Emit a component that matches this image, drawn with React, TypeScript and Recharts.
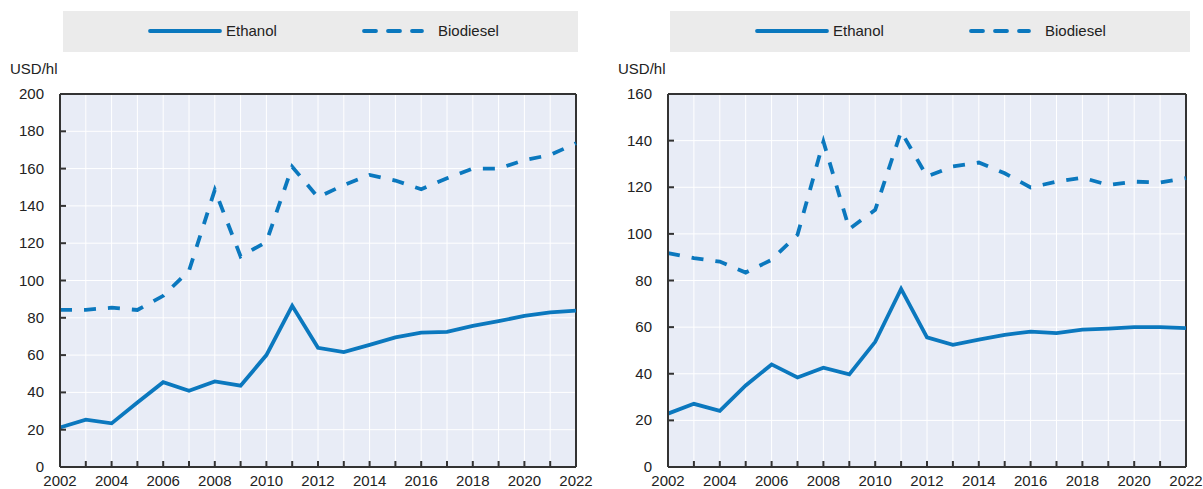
import React from 'react';
import { LineChart, Line, XAxis, YAxis, CartesianGrid, ReferenceLine } from 'recharts';

// Years on the x axis
const years = [
  2002, 2003, 2004, 2005, 2006, 2007, 2008, 2009, 2010, 2011, 2012,
  2013, 2014, 2015, 2016, 2017, 2018, 2019, 2020, 2021, 2022,
];

// Left panel (USD/hl)
const ethanolLeft = [
  21.2, 25.4, 23.4, 34.6, 45.5, 40.9, 45.9, 43.6, 60.0, 86.4, 63.9,
  61.6, 65.5, 69.5, 72.1, 72.5, 75.7, 78.2, 81.0, 82.9, 83.9,
];
const biodieselLeft = [
  84.3, 84.3, 85.4, 84.2, 91.8, 105.2, 148.6, 112.9, 120.7, 161.0, 144.6,
  151.2, 156.6, 153.6, 148.9, 154.8, 160.0, 160.0, 164.6, 167.3, 173.6,
];

// Right panel (USD/hl)
const ethanolRight = [
  22.9, 27.1, 24.1, 35.0, 44.0, 38.4, 42.6, 39.7, 53.7, 76.4, 55.6,
  52.4, 54.6, 56.7, 58.1, 57.4, 58.9, 59.4, 60.0, 60.0, 59.6,
];
const biodieselRight = [
  91.7, 89.6, 88.1, 83.4, 88.9, 99.6, 139.6, 102.1, 110.3, 143.9, 124.6,
  128.9, 130.6, 126.0, 119.9, 122.4, 124.1, 121.0, 122.4, 122.0, 123.9,
];

const leftTicks = [0, 20, 40, 60, 80, 100, 120, 140, 160, 180, 200];
const rightTicks = [0, 20, 40, 60, 80, 100, 120, 140, 160];
const seriesNames = ['Ethanol', 'Biodiesel'];
const unitLabel = 'USD/hl';

const BLUE = '#0b78be';
const AXIS = '#333333';
const FONT = '"Liberation Sans", Arial, sans-serif';

const XTick = ({ x, y, payload }: any) => (
  <g>
    <line x1={x} x2={x} y1={y} y2={y - 6} stroke={AXIS} strokeWidth={2} />
    {payload.value % 2 === 0 && (
      <text x={x} y={y + 19} textAnchor="middle" fontSize={15} fill="#222" fontFamily={FONT}>
        {payload.value}
      </text>
    )}
  </g>
);

const YTick = ({ x, y, payload }: any) => (
  <g>
    <line x1={x} x2={x + 6} y1={y} y2={y} stroke={AXIS} strokeWidth={2} />
    <text x={x - 16} y={y + 5} textAnchor="end" fontSize={15} fill="#222" fontFamily={FONT}>
      {payload.value}
    </text>
  </g>
);

const LegendBox = ({ left, width }: { left: number; width: number }) => (
  <div style={{ position: 'absolute', left, top: 11, width, height: 41, background: '#ebebeb' }}>
    <svg width={width} height={41} style={{ position: 'absolute', left: 0, top: 0 }}>
      <line x1={87} x2={157} y1={20} y2={20} stroke={BLUE} strokeWidth={3.8} strokeLinecap="round" />
      <text x={163} y={25} fontSize={15} fill="#222" fontFamily={FONT}>{seriesNames[0]}</text>
      <line x1={301} x2={359} y1={20} y2={20} stroke={BLUE} strokeWidth={3.8} strokeLinecap="round" strokeDasharray="12 12" />
      <text x={375} y={25} fontSize={15} fill="#222" fontFamily={FONT}>{seriesNames[1]}</text>
    </svg>
  </div>
);

const Panel = ({
  left,
  width,
  rightMargin,
  legendLeft,
  legendWidth,
  ethanol,
  biodiesel,
  ticks,
}: {
  left: number;
  width: number;
  rightMargin: number;
  legendLeft: number;
  legendWidth: number;
  ethanol: number[];
  biodiesel: number[];
  ticks: number[];
}) => {
  const data = years.map((year, i) => ({ year, ethanol: ethanol[i], biodiesel: biodiesel[i] }));
  const yMax = ticks[ticks.length - 1];
  return (
    <div style={{ position: 'absolute', left, top: 0, width, height: 489 }}>
      <LegendBox left={legendLeft} width={legendWidth} />
      <div style={{ position: 'absolute', left: 10, top: 60, fontFamily: FONT, fontSize: 15, color: '#222' }}>
        {unitLabel}
      </div>
      <LineChart
        width={width}
        height={489}
        data={data}
        margin={{ top: 94, right: rightMargin, bottom: 0, left: 0 }}
        style={{ position: 'absolute', left: 0, top: 0 }}
      >
        <CartesianGrid stroke="#ffffff" strokeWidth={1} fill="#e8ecf6" />
        <XAxis
          dataKey="year"
          type="number"
          domain={[2002, 2022]}
          ticks={years}
          interval={0}
          height={22}
          tickSize={0}
          tickMargin={0}
          tickLine={false}
          axisLine={{ stroke: AXIS, strokeWidth: 2 }}
          tick={<XTick />}
        />
        <YAxis
          type="number"
          domain={[0, yMax]}
          ticks={ticks}
          interval={0}
          width={60}
          tickSize={0}
          tickMargin={0}
          tickLine={false}
          axisLine={{ stroke: AXIS, strokeWidth: 2 }}
          tick={<YTick />}
        />
        <ReferenceLine y={yMax} stroke={AXIS} strokeWidth={2} />
        <ReferenceLine x={2022} stroke={AXIS} strokeWidth={2} />
        <Line
          type="linear"
          dataKey="biodiesel"
          name={seriesNames[1]}
          stroke={BLUE}
          strokeWidth={3.8}
          strokeDasharray="12 12"
          dot={false}
          isAnimationActive={false}
        />
        <Line
          type="linear"
          dataKey="ethanol"
          name={seriesNames[0]}
          stroke={BLUE}
          strokeWidth={3.8}
          dot={false}
          isAnimationActive={false}
        />
      </LineChart>
    </div>
  );
};

export default function App() {
  return (
    <div style={{ position: 'absolute', left: 0, top: 0, width: 1203, height: 489, background: '#fff' }}>
      <Panel
        left={0}
        width={600}
        rightMargin={24}
        legendLeft={63}
        legendWidth={515}
        ethanol={ethanolLeft}
        biodiesel={biodieselLeft}
        ticks={leftTicks}
      />
      <Panel
        left={608}
        width={595}
        rightMargin={17}
        legendLeft={62}
        legendWidth={520}
        ethanol={ethanolRight}
        biodiesel={biodieselRight}
        ticks={rightTicks}
      />
    </div>
  );
}
